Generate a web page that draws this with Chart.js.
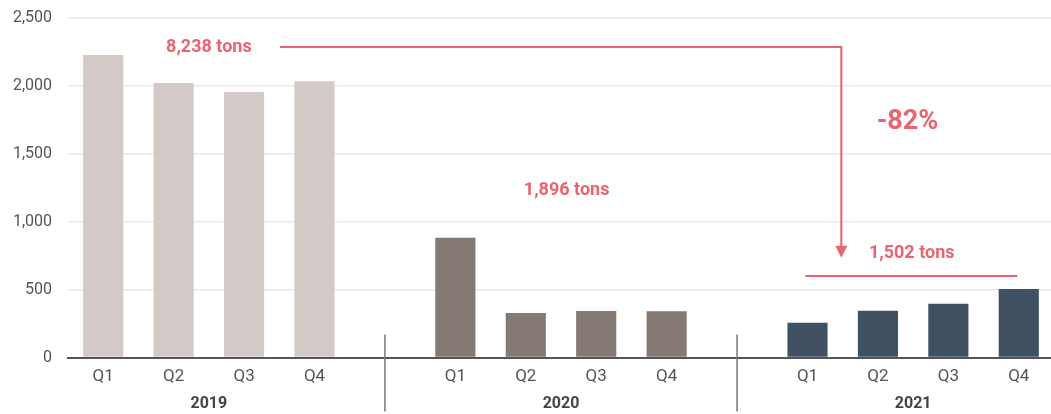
<!DOCTYPE html>
<html lang="en">
<head>
    <meta charset="UTF-8">
    <title>Quarterly tons</title>
    <script src="https://cdn.jsdelivr.net/npm/chart.js"></script>
    <style>
        body {
            margin: 0;
            overflow: hidden;
            background: #fff;
            font-family: Roboto, sans-serif;
        }
        #wrap {
            width: 1054px;
            height: 414px;
        }
    </style>
</head>
<body>
    <div id="wrap"><canvas id="myChart"></canvas></div>

    <script>
        // categories (empty slots separate the years)
        const quarters = ['Q1', 'Q2', 'Q3', 'Q4', '', 'Q1', 'Q2', 'Q3', 'Q4', '', 'Q1', 'Q2', 'Q3', 'Q4'];
        const years = ['2019', '2020', '2021'];
        const tons2019 = [2227, 2021, 1955, 2035];
        const tons2020 = [882, 329, 343, 342];
        const tons2021 = [256, 345, 396, 505];
        const yTicks = [0, 500, 1000, 1500, 2000, 2500];

        const yearColors = ['#d3cac8', '#847973', '#415164'];
        const red = '#e9646f';

        const values = [...tons2019, null, ...tons2020, null, ...tons2021];
        const barColors = quarters.map((q, i) => yearColors[Math.floor(i / 5)]);

        // annotation positions in data units (x = category index, y = tons)
        const total2019 = { text: '8,238 tons', x: 1.5, y: 2286 };
        const total2020 = { text: '1,896 tons', x: 6.58, y: 1233 };
        const total2021 = { text: '1,502 tons', x: 11.48, y: 770 };
        const change = { text: '-82%', x: 11.42, y: 1734 };

        const annotations = {
            id: 'annotations',
            afterDraw(chart) {
                const ctx = chart.ctx;
                const xs = chart.scales.x;
                const ys = chart.scales.y;
                const px = v => xs.getPixelForValue(v);
                const py = v => ys.getPixelForValue(v);
                const axisY = py(0);

                ctx.save();
                // year labels and separators
                ctx.fillStyle = '#444';
                ctx.font = 'bold 16px Roboto';
                ctx.textAlign = 'center';
                ctx.textBaseline = 'middle';
                years.forEach((y, i) => ctx.fillText(y, px(1.5 + i * 5), axisY + 46));

                ctx.strokeStyle = '#777';
                ctx.lineWidth = 1.5;
                [4, 9].forEach(i => {
                    ctx.beginPath();
                    ctx.moveTo(px(i), axisY - 23);
                    ctx.lineTo(px(i), axisY + 54);
                    ctx.stroke();
                });

                // totals
                ctx.fillStyle = red;
                ctx.font = 'bold 18px Roboto';
                [total2019, total2020, total2021].forEach(t => ctx.fillText(t.text, px(t.x), py(t.y)));
                ctx.font = 'bold 27px Roboto';
                ctx.fillText(change.text, px(change.x), py(change.y));

                // arrow from 2019 to 2021
                ctx.strokeStyle = red;
                ctx.lineWidth = 2;
                const ay = py(total2019.y);
                const ax = px(10.48);
                const tipY = py(735);
                ctx.beginPath();
                ctx.moveTo(px(2.51), ay);
                ctx.lineTo(ax, ay);
                ctx.lineTo(ax, tipY - 10);
                ctx.stroke();
                ctx.beginPath();
                ctx.moveTo(ax - 6, tipY - 12);
                ctx.lineTo(ax + 6, tipY - 12);
                ctx.lineTo(ax, tipY);
                ctx.closePath();
                ctx.fill();

                // 2021 bracket line
                ctx.beginPath();
                ctx.moveTo(px(9.97), py(600));
                ctx.lineTo(px(12.98), py(600));
                ctx.stroke();
                ctx.restore();
            }
        };

        const ctx = document.getElementById('myChart').getContext('2d');
        const myChart = new Chart(ctx, {
            type: 'bar',
            data: {
                labels: quarters,
                datasets: [{
                    data: values,
                    backgroundColor: barColors,
                    barPercentage: 0.57,
                    categoryPercentage: 1
                }]
            },
            options: {
                responsive: true,
                maintainAspectRatio: false,
                animation: false,
                layout: { padding: { top: 0, bottom: 18, left: 0, right: 0 } },
                plugins: {
                    legend: { display: false },
                    tooltip: { enabled: false }
                },
                scales: {
                    x: {
                        grid: { display: false, drawTicks: false },
                        border: { display: true, color: '#555', width: 2 },
                        ticks: {
                            color: '#555',
                            font: { family: 'Roboto', size: 17 },
                            padding: 9,
                            maxRotation: 0,
                            autoSkip: false
                        }
                    },
                    y: {
                        min: 0,
                        max: 2500,
                        afterBuildTicks: scale => { scale.ticks = yTicks.map(v => ({ value: v })); },
                        afterFit: scale => {
                            scale.width = 68;
                            scale.paddingTop = 18;
                        },
                        border: { display: false },
                        grid: {
                            drawTicks: false,
                            color: c => c.index === 0 ? 'rgba(0,0,0,0)' : '#ebe6e8',
                            lineWidth: 1.5
                        },
                        ticks: {
                            color: '#555',
                            font: { family: 'Roboto', size: 16 },
                            padding: 16,
                            callback: v => v.toLocaleString('en-US')
                        }
                    }
                }
            },
            plugins: [annotations]
        });
    </script>
</body>
</html>
